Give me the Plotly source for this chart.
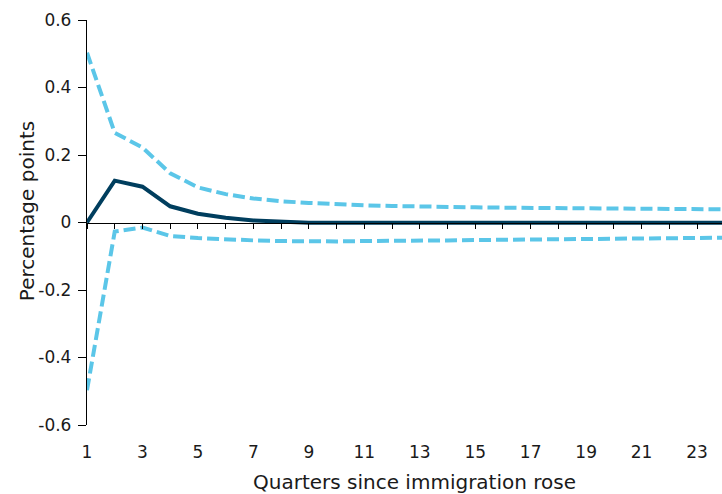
import plotly.graph_objects as go

quarters = list(range(1, 25))

central = [0.0, 0.124, 0.106, 0.048, 0.026, 0.014, 0.006, 0.001, -0.001, -0.001,
           -0.001, -0.001, -0.001, -0.001, -0.001, -0.001, -0.001, -0.001, -0.001, -0.001,
           -0.001, -0.001, -0.001, -0.001]

upper = [0.503, 0.266, 0.222, 0.146, 0.104, 0.084, 0.071, 0.063, 0.058, 0.054,
         0.051, 0.049, 0.047, 0.046, 0.045, 0.044, 0.043, 0.042, 0.041, 0.041,
         0.040, 0.040, 0.039, 0.039]

lower = [-0.497, -0.027, -0.015, -0.040, -0.046, -0.050, -0.053, -0.055, -0.056, -0.056,
         -0.055, -0.055, -0.054, -0.053, -0.052, -0.051, -0.050, -0.049, -0.048, -0.047,
         -0.046, -0.046, -0.045, -0.045]

y_ticks = [0.6, 0.4, 0.2, 0, -0.2, -0.4, -0.6]
y_tick_text = ["0.6", "0.4", "0.2", "0", "-0.2", "-0.4", "-0.6"]
x_ticks = list(range(1, 24, 2))

x_title = "Quarters since immigration rose"
y_title = "Percentage points"

LIGHT = "#5BC6E8"
DARK = "#003E5E"
FONT = "DejaVu Sans"

fig = go.Figure()
fig.add_trace(go.Scatter(x=quarters, y=upper, mode="lines",
                         line=dict(color=LIGHT, width=4, dash="12px,5px")))
fig.add_trace(go.Scatter(x=quarters, y=lower, mode="lines",
                         line=dict(color=LIGHT, width=4, dash="12px,5px")))
fig.add_trace(go.Scatter(x=quarters, y=central, mode="lines",
                         line=dict(color=DARK, width=4)))
# invisible trace binding the zero-line axis
fig.add_trace(go.Scatter(x=[1, 24], y=[0, 0], xaxis="x2", mode="lines",
                         line=dict(width=0), hoverinfo="skip"))

fig.update_layout(
    width=722, height=494,
    margin=dict(l=87, r=0, t=20, b=69),
    plot_bgcolor="white", paper_bgcolor="white",
    showlegend=False,
    font=dict(family=FONT, size=17, color="#1a1a1a"),
    xaxis=dict(
        range=[1, 23.9], tickvals=x_ticks, ticktext=[str(v) for v in x_ticks],
        showline=False, showgrid=False, zeroline=False,
        ticks="outside", ticklen=12, tickcolor="rgba(0,0,0,0)",
        tickfont=dict(size=17),
    ),
    xaxis2=dict(
        range=[1, 23.9], overlaying="x", anchor="free", position=0.5,
        tickvals=list(range(1, 25)), showticklabels=False,
        ticks="outside", ticklen=5, tickcolor="black", tickwidth=1.3,
        showline=True, linecolor="black", linewidth=1.3,
        showgrid=False, zeroline=False,
    ),
    yaxis=dict(
        range=[-0.6, 0.6], tickvals=y_ticks, ticktext=y_tick_text,
        showline=True, linecolor="black", linewidth=1.3,
        ticks="outside", ticklen=8, tickcolor="black", tickwidth=1.3,
        ticklabelstandoff=3,
        showgrid=False, zeroline=False, tickfont=dict(size=17),
    ),
    annotations=[
        dict(text=x_title, xref="paper", yref="paper", x=0.5165, y=-0.1407,
             xanchor="center", yanchor="middle", showarrow=False,
             font=dict(size=20, family=FONT, color="#1a1a1a")),
        dict(text=y_title, xref="paper", yref="paper", x=-0.0945, y=0.528,
             xanchor="center", yanchor="middle", showarrow=False, textangle=-90,
             font=dict(size=20, family=FONT, color="#1a1a1a")),
    ],
)

fig.write_html("out.html")
